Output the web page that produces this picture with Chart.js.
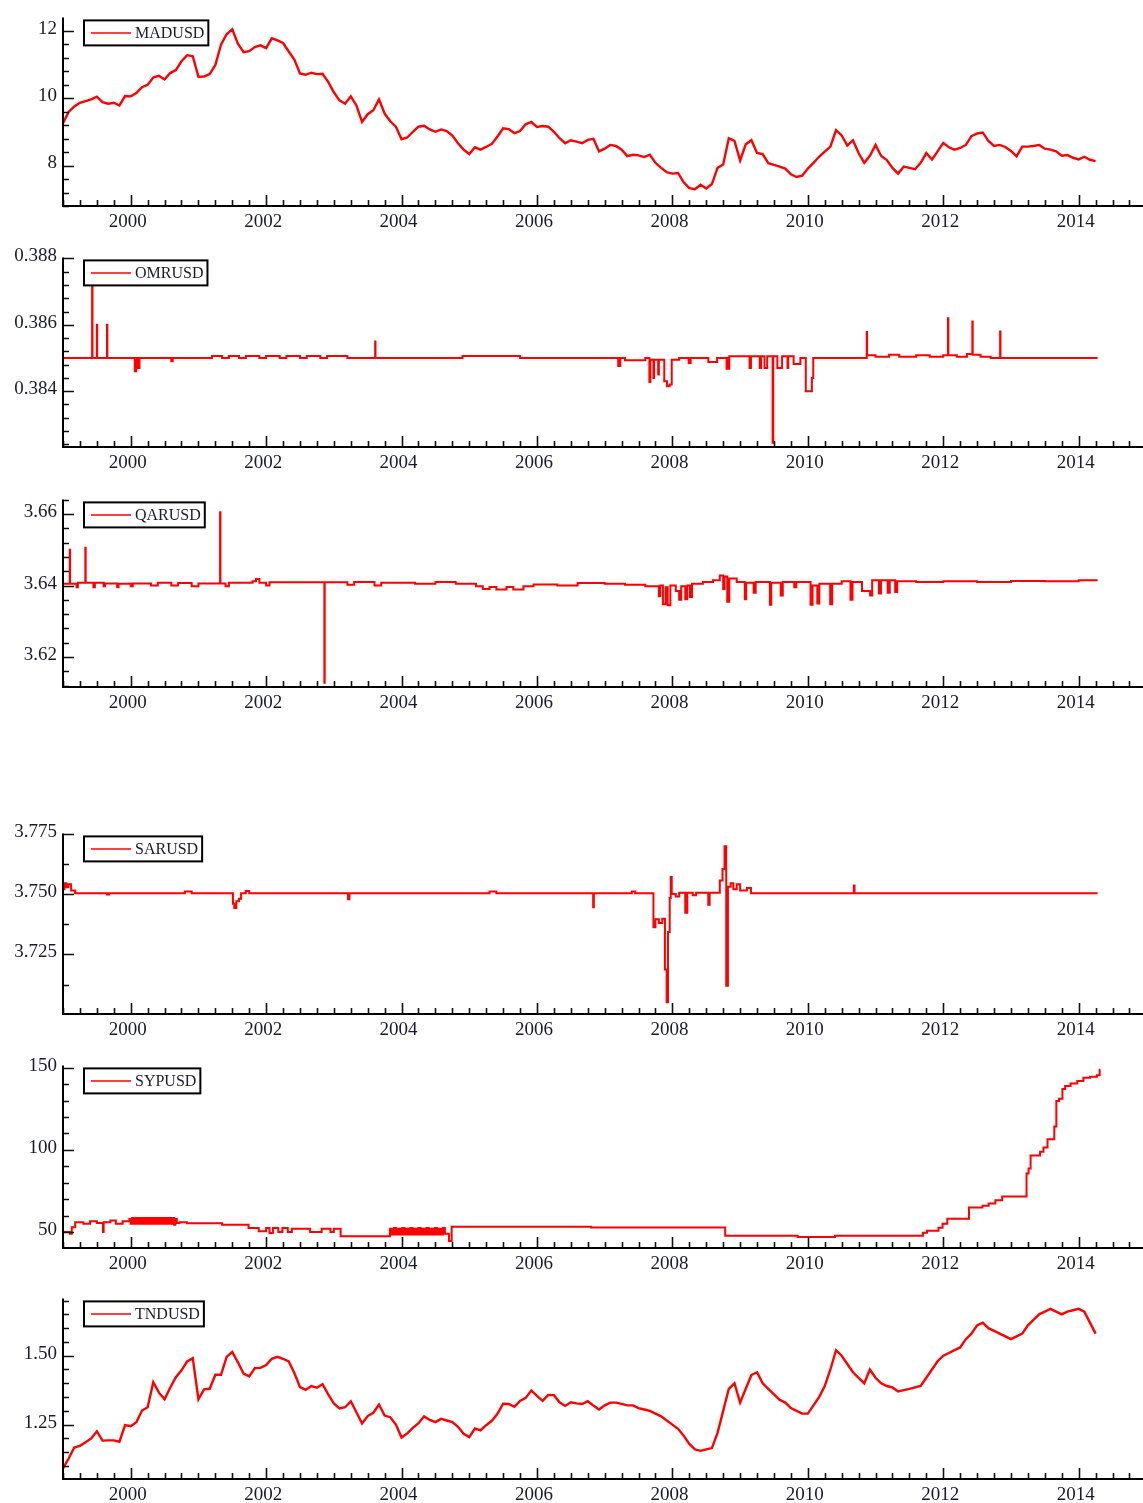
<!DOCTYPE html>
<html>
<head>
<meta charset="utf-8">
<script src="https://cdn.jsdelivr.net/npm/chart.js@4.4.1/dist/chart.umd.min.js"></script>
<style>
body { margin: 0; background: #fff; }
#wrap { position: relative; width: 1143px; height: 1503px; }
#wrap canvas { position: absolute; left: 0; }
</style>
</head>
<body>
<div id="wrap"></div>
<script>
// monthly series, first value = Jan 1999
const madValues = [
  9.25, 9.59, 9.75, 9.86, 9.91, 9.96, 10.04, 9.88, 9.83, 9.86, 9.78, 10.06,
  10.05, 10.15, 10.32, 10.39, 10.61, 10.66, 10.55, 10.74, 10.83, 11.09, 11.27, 11.24,
  10.63, 10.64, 10.71, 10.98, 11.58, 11.89, 12.04, 11.61, 11.36, 11.39, 11.51, 11.56,
  11.48, 11.77, 11.71, 11.63, 11.38, 11.14, 10.73, 10.69, 10.75, 10.71, 10.72, 10.48,
  10.17, 9.93, 9.83, 10.05, 9.78, 9.29, 9.52, 9.64, 9.96, 9.54, 9.31, 9.15,
  8.78, 8.83, 9.00, 9.15, 9.18, 9.07, 9.00, 9.07, 9.02, 8.89, 8.66, 8.47,
  8.34, 8.54, 8.47, 8.55, 8.64, 8.86, 9.10, 9.08, 8.96, 9.02, 9.22, 9.29,
  9.14, 9.17, 9.15, 9.00, 8.81, 8.66, 8.75, 8.71, 8.66, 8.76, 8.79, 8.42,
  8.50, 8.61, 8.58, 8.47, 8.28, 8.32, 8.30, 8.25, 8.32, 8.08, 7.93, 7.80,
  7.76, 7.78, 7.50, 7.33, 7.30, 7.43, 7.32, 7.45, 7.93, 8.03, 8.81, 8.73,
  8.15, 8.63, 8.75, 8.37, 8.34, 8.07, 8.02, 7.97, 7.91, 7.74, 7.66, 7.70,
  7.91, 8.08, 8.26, 8.41, 8.56, 9.05, 8.89, 8.59, 8.75, 8.37, 8.08, 8.29,
  8.61, 8.28, 8.16, 7.93, 7.76, 7.97, 7.93, 7.89, 8.08, 8.37, 8.18, 8.42,
  8.67, 8.54, 8.47, 8.52, 8.61, 8.87, 8.95, 8.98, 8.73, 8.58, 8.61, 8.55,
  8.43, 8.27, 8.56, 8.56, 8.58, 8.61, 8.50, 8.47, 8.42, 8.29, 8.31, 8.23,
  8.18, 8.26, 8.17, 8.13
];

const tndValues = [
  1.091, 1.127, 1.167, 1.173, 1.186, 1.200, 1.226, 1.192, 1.193, 1.193, 1.188, 1.248,
  1.244, 1.259, 1.301, 1.313, 1.404, 1.366, 1.342, 1.384, 1.422, 1.447, 1.479, 1.491,
  1.342, 1.378, 1.380, 1.431, 1.431, 1.496, 1.514, 1.476, 1.435, 1.425, 1.455, 1.456,
  1.466, 1.489, 1.496, 1.489, 1.479, 1.437, 1.386, 1.376, 1.390, 1.384, 1.397, 1.360,
  1.327, 1.309, 1.313, 1.335, 1.295, 1.254, 1.281, 1.293, 1.323, 1.283, 1.277, 1.250,
  1.203, 1.218, 1.238, 1.255, 1.280, 1.267, 1.259, 1.271, 1.265, 1.259, 1.242, 1.217,
  1.205, 1.236, 1.229, 1.248, 1.264, 1.289, 1.326, 1.325, 1.315, 1.336, 1.347, 1.374,
  1.354, 1.336, 1.358, 1.357, 1.331, 1.318, 1.331, 1.327, 1.325, 1.335, 1.319, 1.305,
  1.320, 1.330, 1.330, 1.325, 1.320, 1.320, 1.310, 1.305, 1.300, 1.290, 1.280, 1.265,
  1.250, 1.235, 1.210, 1.180, 1.160, 1.155, 1.160, 1.165, 1.220, 1.300, 1.380, 1.400,
  1.330, 1.380, 1.430, 1.440, 1.400, 1.380, 1.360, 1.340, 1.330, 1.310, 1.300, 1.290,
  1.290, 1.320, 1.350, 1.390, 1.450, 1.520, 1.500, 1.470, 1.440, 1.420, 1.400, 1.450,
  1.420, 1.400, 1.390, 1.385, 1.370, 1.375, 1.380, 1.385, 1.390, 1.420, 1.450, 1.480,
  1.500, 1.510, 1.520, 1.530, 1.560, 1.580, 1.610, 1.620, 1.600, 1.590, 1.580, 1.570,
  1.560, 1.570, 1.580, 1.610, 1.630, 1.650, 1.660, 1.670, 1.660, 1.650, 1.660, 1.665,
  1.670, 1.660, 1.620, 1.580
];

// pegged series: dates (decimal years) and the value that holds from each date
const omrDates = [
  1999.00, 1999.43, 1999.435, 1999.50, 1999.505, 1999.65, 1999.655, 2000.06, 2000.08, 2000.11,
  2000.13, 2000.60, 2000.62, 2001.20, 2001.35, 2001.45, 2001.60, 2001.70, 2001.90, 2002.00,
  2002.20, 2002.30, 2002.50, 2002.60, 2002.80, 2002.90, 2003.20, 2003.61, 2003.615, 2004.90,
  2005.75, 2007.20, 2007.23, 2007.30, 2007.60, 2007.66, 2007.675, 2007.72, 2007.73, 2007.79,
  2007.80, 2007.88, 2007.92, 2007.96, 2007.99, 2008.10, 2008.24, 2008.27, 2008.53, 2008.66,
  2008.80, 2008.81, 2008.83, 2008.84, 2009.14, 2009.16, 2009.29, 2009.31, 2009.36, 2009.40,
  2009.48, 2009.49, 2009.55, 2009.62, 2009.70, 2009.71, 2009.79, 2009.89, 2009.97, 2010.06,
  2010.08, 2010.87, 2010.875, 2011.00, 2011.20, 2011.35, 2011.60, 2011.80, 2012.00, 2012.07,
  2012.075, 2012.20, 2012.35, 2012.43, 2012.435, 2012.55, 2012.70, 2012.84, 2012.845, 2014.28
];
const omrValues = [
  0.38500, 0.38770, 0.38500, 0.38600, 0.38500, 0.38600, 0.38500, 0.38460, 0.38500, 0.38470,
  0.38500, 0.38490, 0.38500, 0.38506, 0.38500, 0.38506, 0.38500, 0.38506, 0.38500, 0.38506,
  0.38500, 0.38506, 0.38500, 0.38506, 0.38500, 0.38506, 0.38500, 0.38550, 0.38500, 0.38506,
  0.38500, 0.38476, 0.38500, 0.38493, 0.38500, 0.38428, 0.38495, 0.38440, 0.38495, 0.38450,
  0.38495, 0.38430, 0.38415, 0.38420, 0.38495, 0.38500, 0.38485, 0.38500, 0.38488, 0.38500,
  0.38468, 0.38500, 0.38468, 0.38505, 0.38470, 0.38505, 0.38470, 0.38505, 0.38470, 0.38505,
  0.38245, 0.38505, 0.38470, 0.38505, 0.38470, 0.38505, 0.38482, 0.38500, 0.38400, 0.38440,
  0.38500, 0.38578, 0.38508, 0.38504, 0.38510, 0.38504, 0.38508, 0.38504, 0.38508, 0.38620,
  0.38508, 0.38504, 0.38512, 0.38610, 0.38510, 0.38504, 0.38500, 0.38580, 0.38500, 0.38500
];

const qarDates = [
  1999.00, 1999.10, 1999.105, 1999.20, 1999.22, 1999.33, 1999.335, 1999.45, 1999.47, 1999.60,
  1999.62, 1999.80, 1999.82, 2000.00, 2000.03, 2000.30, 2000.40, 2000.60, 2000.70, 2000.90,
  2001.00, 2001.32, 2001.325, 2001.40, 2001.45, 2001.80, 2001.85, 2001.90, 2002.00, 2002.05,
  2002.86, 2002.865, 2003.20, 2003.30, 2003.60, 2003.70, 2004.20, 2004.50, 2004.80, 2005.10,
  2005.20, 2005.30, 2005.40, 2005.55, 2005.65, 2005.80, 2005.95, 2006.30, 2006.60, 2007.00,
  2007.30, 2007.60, 2007.80, 2007.82, 2007.86, 2007.90, 2007.93, 2007.97, 2008.05, 2008.10,
  2008.13, 2008.19, 2008.22, 2008.26, 2008.29, 2008.45, 2008.60, 2008.70, 2008.75, 2008.77,
  2008.81, 2008.84, 2008.95, 2009.07, 2009.09, 2009.20, 2009.23, 2009.44, 2009.46, 2009.60,
  2009.63, 2009.80, 2009.83, 2010.04, 2010.07, 2010.14, 2010.17, 2010.33, 2010.36, 2010.50,
  2010.63, 2010.66, 2010.80, 2010.92, 2010.95, 2011.05, 2011.08, 2011.18, 2011.21, 2011.29,
  2011.32, 2011.60, 2012.00, 2012.50, 2013.00, 2013.50, 2014.00, 2014.28
];
const qarValues = [
  3.6405, 3.6500, 3.6405, 3.6395, 3.6408, 3.6506, 3.6408, 3.6395, 3.6408, 3.6398,
  3.6406, 3.6395, 3.6405, 3.6398, 3.6406, 3.6400, 3.6408, 3.6400, 3.6407, 3.6398,
  3.6406, 3.6605, 3.6406, 3.6398, 3.6408, 3.6412, 3.6418, 3.6408, 3.6400, 3.6409,
  3.6128, 3.6409, 3.6402, 3.6410, 3.6400, 3.6408, 3.6405, 3.6410, 3.6405, 3.6398,
  3.6390, 3.6396, 3.6389, 3.6396, 3.6389, 3.6398, 3.6403, 3.6400, 3.6407, 3.6405,
  3.6402, 3.6398, 3.6370, 3.6400, 3.6348, 3.6395, 3.6345, 3.6400, 3.6385, 3.6360,
  3.6398, 3.6362, 3.6400, 3.6368, 3.6405, 3.6410, 3.6415, 3.6428, 3.6390, 3.6425,
  3.6355, 3.6420, 3.6410, 3.6362, 3.6408, 3.6380, 3.6410, 3.6346, 3.6408, 3.6372,
  3.6410, 3.6395, 3.6410, 3.6346, 3.6400, 3.6350, 3.6405, 3.6348, 3.6405, 3.6412,
  3.6360, 3.6410, 3.6385, 3.6372, 3.6415, 3.6378, 3.6415, 3.6380, 3.6415, 3.6382,
  3.6412, 3.6410, 3.6412, 3.6410, 3.6413, 3.6412, 3.6415, 3.6415
];

const sarDates = [
  1999.00, 1999.02, 1999.05, 1999.08, 1999.12, 1999.18, 1999.65, 1999.68, 2000.80, 2000.90,
  2001.51, 2001.53, 2001.56, 2001.60, 2001.63, 2001.70, 2001.75, 2003.21, 2003.23, 2005.30,
  2005.40, 2006.83, 2006.84, 2007.40, 2007.45, 2007.72, 2007.75, 2007.80, 2007.85, 2007.89,
  2007.915, 2007.935, 2007.96, 2007.975, 2007.99, 2008.05, 2008.10, 2008.19, 2008.22, 2008.30,
  2008.35, 2008.53, 2008.55, 2008.70, 2008.74, 2008.77, 2008.795, 2008.82, 2008.86, 2008.90,
  2008.95, 2009.00, 2009.10, 2009.16, 2010.68, 2010.69, 2014.28
];
const sarValues = [
  3.7520, 3.7545, 3.7528, 3.7540, 3.7515, 3.7503, 3.7498, 3.7503, 3.7510, 3.7503,
  3.7460, 3.7442, 3.7470, 3.7480, 3.7503, 3.7512, 3.7503, 3.7478, 3.7503, 3.7510,
  3.7503, 3.7445, 3.7503, 3.7510, 3.7503, 3.7362, 3.7395, 3.7380, 3.7398, 3.7187,
  3.7052, 3.7343, 3.7483, 3.7570, 3.7500, 3.7490, 3.7505, 3.7422, 3.7505, 3.7495,
  3.7505, 3.7456, 3.7505, 3.7556, 3.7604, 3.7698, 3.7120, 3.7530, 3.7545, 3.7520,
  3.7540, 3.7515, 3.7525, 3.7503, 3.7535, 3.7503, 3.7503
];

const sypDates = [
  1999.00, 1999.10, 1999.13, 1999.18, 1999.30, 1999.40, 1999.50, 1999.59, 1999.60, 1999.70,
  1999.78, 1999.88, 1999.98, 2000.00, 2000.02, 2000.04, 2000.06, 2000.08, 2000.10, 2000.12,
  2000.14, 2000.16, 2000.18, 2000.20, 2000.22, 2000.24, 2000.26, 2000.28, 2000.30, 2000.32,
  2000.34, 2000.36, 2000.38, 2000.40, 2000.42, 2000.44, 2000.46, 2000.48, 2000.50, 2000.52,
  2000.54, 2000.56, 2000.58, 2000.60, 2000.62, 2000.64, 2000.66, 2000.68, 2000.72, 2000.83,
  2001.35, 2001.74, 2001.89, 2002.00, 2002.05, 2002.10, 2002.18, 2002.24, 2002.32, 2002.38,
  2002.65, 2002.82, 2002.95, 2003.00, 2003.10, 2003.83, 2003.86, 2003.89, 2003.92, 2003.95,
  2003.98, 2004.01, 2004.04, 2004.07, 2004.10, 2004.13, 2004.16, 2004.19, 2004.22, 2004.25,
  2004.28, 2004.31, 2004.34, 2004.37, 2004.40, 2004.43, 2004.46, 2004.49, 2004.52, 2004.55,
  2004.58, 2004.61, 2004.64, 2004.70, 2004.74, 2006.80, 2008.78, 2009.85, 2010.40, 2011.70,
  2011.76, 2011.93, 2011.99, 2012.06, 2012.38, 2012.58, 2012.67, 2012.77, 2012.87, 2013.23,
  2013.26, 2013.29, 2013.43, 2013.48, 2013.54, 2013.64, 2013.67, 2013.71, 2013.76, 2013.80,
  2013.88, 2013.98, 2014.07, 2014.17, 2014.27, 2014.31, 2014.32
];
const sypValues = [
  50.0, 49.0, 53.0, 56.0, 55.0, 56.5, 55.5, 50.0, 56.0, 57.0,
  55.0, 56.5, 58.0, 55.0, 58.5, 55.0, 58.5, 55.0, 58.5, 55.0,
  58.5, 55.0, 58.5, 55.0, 58.5, 55.0, 58.5, 55.0, 58.5, 55.0,
  58.5, 55.0, 58.5, 55.0, 58.5, 55.0, 58.5, 55.0, 58.5, 55.0,
  58.5, 55.0, 58.5, 55.0, 58.5, 54.5, 58.0, 55.5, 56.0, 55.4,
  54.4, 52.5, 50.5, 52.5, 49.5, 52.5, 50.0, 52.5, 50.0, 52.0,
  50.0, 52.0, 50.0, 52.0, 47.5, 52.0, 48.5, 52.5, 48.5, 52.0,
  48.5, 52.5, 48.5, 52.0, 48.5, 52.5, 48.5, 52.0, 48.5, 52.5,
  48.5, 52.0, 48.5, 52.5, 48.5, 52.0, 48.5, 52.5, 48.5, 52.0,
  48.5, 52.5, 49.0, 44.5, 53.2, 52.8, 47.8, 47.0, 47.8, 49.6,
  50.8, 52.6, 55.1, 58.1, 65.0, 66.0, 67.3, 69.3, 71.7, 85.7,
  88.6, 96.6, 98.9, 101.5, 106.4, 114.3, 129.7, 131.1, 137.0, 138.9,
  140.4, 141.9, 143.9, 144.5, 145.4, 148.8, 148.8
];

const yearLabels = [2000, 2002, 2004, 2006, 2008, 2010, 2012, 2014];
const madTicks = [8, 10, 12];
const omrTicks = [0.384, 0.386, 0.388];
const qarTicks = [3.62, 3.64, 3.66];
const sarTicks = [3.725, 3.750, 3.775];
const sypTicks = [50, 100, 150];
const tndTicks = [1.25, 1.50];

const X_MIN = 1999;
const X_MAX = 2014.95;
const FONT = '"Liberation Serif", "Times New Roman", serif';
const RED = 'rgb(255,0,0)';

function monthly(values) {
  return values.map((v, i) => ({x: X_MIN + i / 12, y: v}));
}
function dated(dates, values) {
  return dates.map((d, i) => ({x: d, y: values[i]}));
}

const panels = [
  {name: 'MADUSD', top: 13, bottom: 206, min: 6.8, max: 12.39, ticks: madTicks, minor: 0.4, dec: 0, data: monthly(madValues), stepped: false, width: 2.4},
  {name: 'OMRUSD', top: 253, bottom: 447, min: 0.38232, max: 0.38803, ticks: omrTicks, minor: 0.0004, dec: 3, data: dated(omrDates, omrValues), stepped: true, width: 2},
  {name: 'QARUSD', top: 495, bottom: 687, min: 3.61163, max: 3.66409, ticks: qarTicks, minor: 0.004, dec: 2, data: dated(qarDates, qarValues), stepped: true, width: 2},
  {name: 'SARUSD', top: 829, bottom: 1014, min: 3.7003, max: 3.7751, ticks: sarTicks, minor: 0.0125, dec: 3, data: dated(sarDates, sarValues), stepped: true, width: 2},
  {name: 'SYPUSD', top: 1061, bottom: 1248, min: 40.3, max: 151.4, ticks: sypTicks, minor: 10, dec: 0, data: dated(sypDates, sypValues), stepped: true, width: 2},
  {name: 'TNDUSD', top: 1294, bottom: 1479, min: 1.0528, max: 1.7079, ticks: tndTicks, minor: 0.05, dec: 2, data: monthly(tndValues), stepped: false, width: 2.4}
];

const PAD_TOP = 13;
const AXIS_H = 32;

// axes with inward ticks and the boxed legend
const framePlugin = {
  id: 'frame',
  afterDatasetsDraw(chart) {
    const p = chart.options.plugins.frame.panel;
    const ctx = chart.ctx;
    const a = chart.chartArea;
    const xs = chart.scales.x;
    const ys = chart.scales.y;
    ctx.save();
    ctx.strokeStyle = '#111';
    ctx.lineWidth = 1.6;
    ctx.beginPath();
    for (let k = 0; 1999 + k * 0.25 <= X_MAX; k++) {
      const t = 1999 + k * 0.25;
      const px = Math.round(xs.getPixelForValue(t)) + 0.5;
      const len = (k % 8 === 4) ? 11 : 6;
      ctx.moveTo(px, a.bottom);
      ctx.lineTo(px, a.bottom - len);
    }
    const base = p.ticks[0];
    const kFrom = Math.ceil((p.min - base) / p.minor - 1e-6);
    const kTo = Math.floor((p.max - base) / p.minor + 1e-6);
    for (let k = kFrom; k <= kTo; k++) {
      const v = base + k * p.minor;
      const isMajor = p.ticks.some(t => Math.abs(t - v) < p.minor * 0.01);
      const py = Math.round(ys.getPixelForValue(v)) + 0.5;
      ctx.moveTo(a.left, py);
      ctx.lineTo(a.left + (isMajor ? 11 : 6), py);
    }
    ctx.stroke();

    ctx.lineWidth = 2;
    ctx.strokeStyle = '#000';
    ctx.beginPath();
    ctx.moveTo(a.left, a.top);
    ctx.lineTo(a.left, a.bottom);
    ctx.lineTo(a.right, a.bottom);
    ctx.stroke();

    // legend
    ctx.font = '16px ' + FONT;
    const tw = ctx.measureText(p.name).width;
    const bx = a.left + 21, by = a.top + 3, bh = 25;
    const bw = 51 + tw + 4;
    ctx.fillStyle = '#fff';
    ctx.fillRect(bx, by, bw, bh);
    ctx.strokeStyle = '#000';
    ctx.lineWidth = 2;
    ctx.strokeRect(bx, by, bw, bh);
    ctx.strokeStyle = RED;
    ctx.lineWidth = 1.5;
    ctx.beginPath();
    ctx.moveTo(bx + 7, by + bh / 2);
    ctx.lineTo(bx + 47, by + bh / 2);
    ctx.stroke();
    ctx.fillStyle = '#1a1a2a';
    ctx.textBaseline = 'middle';
    ctx.fillText(p.name, bx + 51, by + bh / 2 + 1);
    ctx.restore();
  }
};

const wrap = document.getElementById('wrap');

panels.forEach(p => {
  const h = (p.bottom - p.top) + PAD_TOP + AXIS_H;
  const canvas = document.createElement('canvas');
  canvas.width = 1143;
  canvas.height = h;
  canvas.style.width = '1143px';
  canvas.style.height = h + 'px';
  canvas.style.top = (p.top - PAD_TOP) + 'px';
  wrap.appendChild(canvas);

  new Chart(canvas.getContext('2d'), {
    type: 'line',
    data: {
      datasets: [{
        label: p.name,
        data: p.data,
        borderColor: RED,
        borderWidth: p.width,
        stepped: p.stepped,
        pointRadius: 0,
        tension: 0,
        fill: false
      }]
    },
    options: {
      responsive: false,
      animation: false,
      layout: {padding: {top: PAD_TOP, left: 0, right: 0, bottom: 0}},
      plugins: {
        legend: {display: false},
        tooltip: {enabled: false},
        frame: {panel: p}
      },
      scales: {
        x: {
          type: 'linear',
          min: X_MIN,
          max: X_MAX,
          grid: {display: false, drawTicks: false},
          border: {display: false},
          afterBuildTicks: s => { s.ticks = yearLabels.map(v => ({value: v})); },
          afterFit: s => { s.height = AXIS_H; },
          ticks: {
            font: {family: FONT, size: 19},
            color: '#1a1a2a',
            padding: 5,
            labelOffset: -3,
            maxRotation: 0,
            autoSkip: false,
            callback: v => String(v)
          }
        },
        y: {
          type: 'linear',
          min: p.min,
          max: p.max,
          grid: {display: false, drawTicks: false},
          border: {display: false},
          afterBuildTicks: s => { s.ticks = p.ticks.map(v => ({value: v})); },
          afterFit: s => { s.width = 63; },
          ticks: {
            font: {family: FONT, size: 19},
            color: '#1a1a2a',
            padding: 6,
            labelOffset: -2,
            autoSkip: false,
            callback: v => v.toFixed(p.dec)
          }
        }
      }
    },
    plugins: [framePlugin]
  });
});
</script>
</body>
</html>
